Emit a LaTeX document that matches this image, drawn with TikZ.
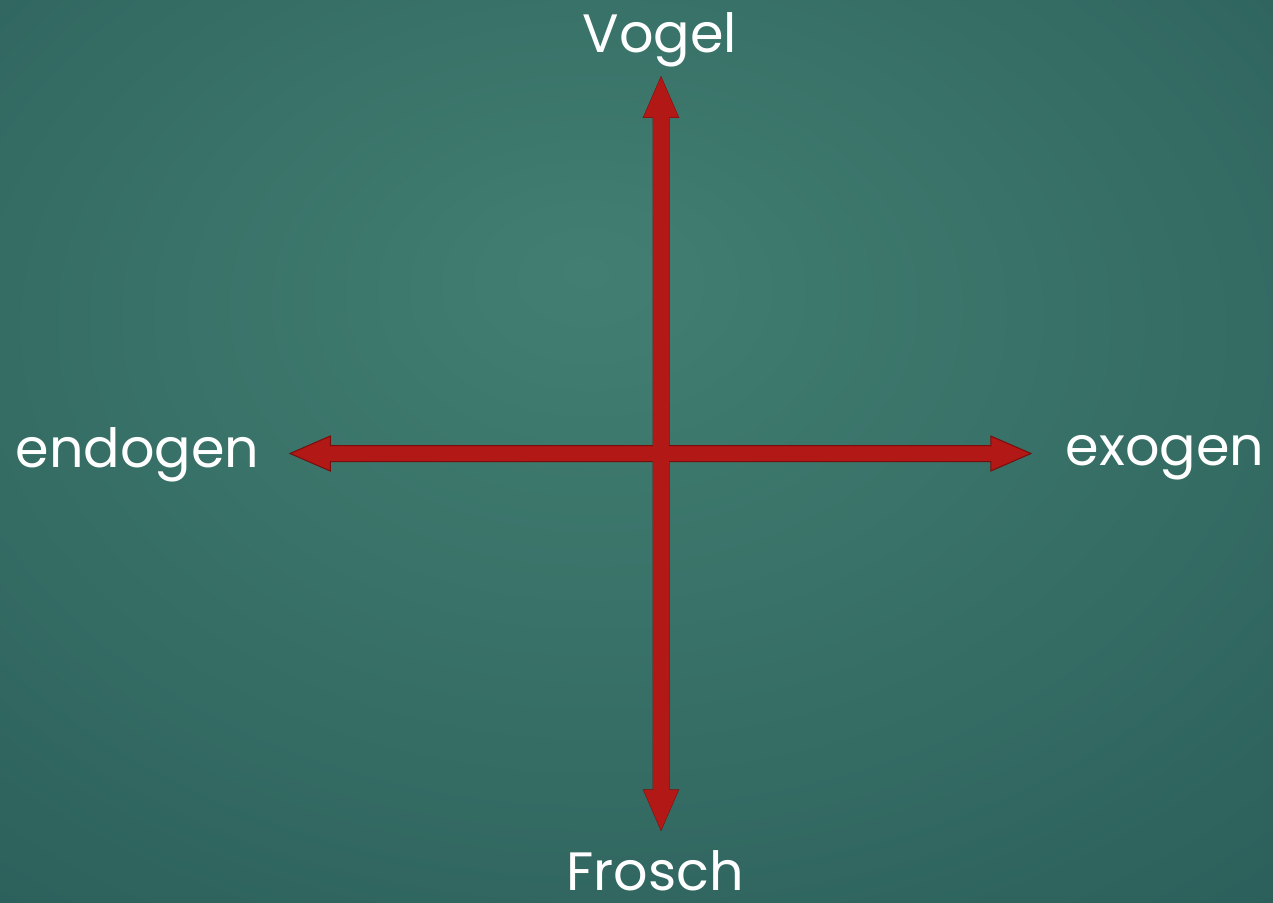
\documentclass[tikz,border=0pt]{standalone}
\usepackage{fontspec}
\setmainfont{Poppins}
\usepackage{xcolor}
\usetikzlibrary{shapes,arrows,positioning}

\definecolor{bgin}{RGB}{66,127,114}
\definecolor{bgmid}{RGB}{54,110,101}
\definecolor{bgout}{RGB}{37,86,85}
\definecolor{bgcorner}{RGB}{27,70,74}
\definecolor{axisred}{RGB}{178,24,22}
\definecolor{axisline}{RGB}{120,14,12}

\pgfdeclareradialshading{boardshade}{\pgfpoint{-2bp}{10bp}}{%
  color(0bp)=(bgin); color(22bp)=(bgmid); color(50bp)=(bgout); color(72bp)=(bgcorner)}

\tikzset{
  axis/.style={double arrow, fill=axisred, draw=axisline, line width=0.5pt,
    inner xsep=0pt, inner ysep=3.75pt, text height=0pt, text depth=0pt,
    minimum width=17pt, double arrow head extend=4.75pt, double arrow tip angle=47},
  pole/.style={text=white, font=\fontsize{27}{29}\selectfont, inner sep=0pt}
}

\begin{document}
\begin{tikzpicture}[x=0.5pt, y=-0.5pt]
\shade[shading=boardshade] (0,0) rectangle (1273,902);
\useasboundingbox (0,0) rectangle (1273,902);

\node (vaxis) [axis, minimum height=376.5pt, rotate=90] at (661,453.5) {};
\node (haxis) [axis, minimum height=370.5pt] at (660.5,453.5) {};
\node (vfill) [axis, draw=none, minimum height=376.5pt, rotate=90] at (661,453.5) {};

\node (vogel) [pole, anchor=base] at (660,52) {Vogel};
\node (frosch) [pole, anchor=base] at (655,890) {Frosch};
\node (endogen) [pole, anchor=base] at (137.5,467) {endogen};
\node (exogen) [pole, anchor=base] at (1165,465) {exogen};
\end{tikzpicture}
\end{document}
